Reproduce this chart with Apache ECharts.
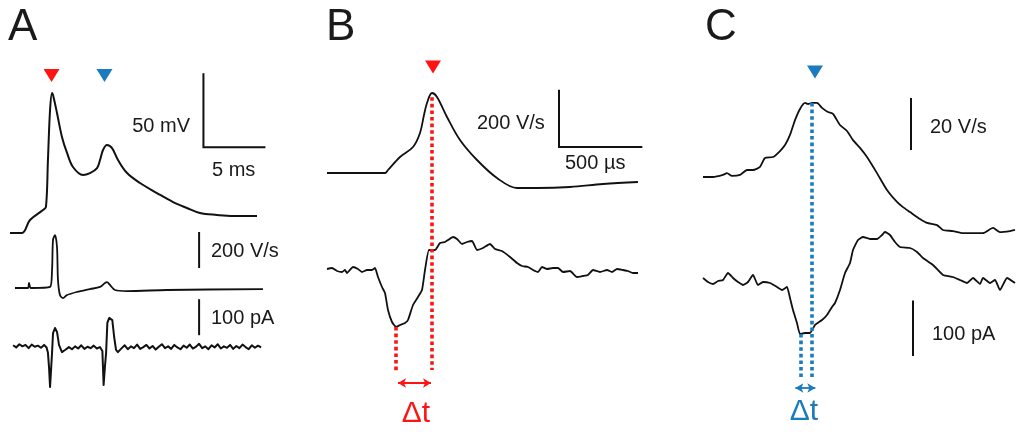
<!DOCTYPE html>
<html>
<head>
<meta charset="utf-8">
<script src="https://cdn.jsdelivr.net/npm/echarts@6/dist/echarts.min.js"></script>
<style>
  html, body { margin: 0; padding: 0; background: #fff; }
  #chart { width: 1016px; height: 432px; }
</style>
</head>
<body>
<div id="chart"></div>
<script>
// ---- data (A: ms / mV, V/s, pA ; B, C: µs from the marked peak) ----
const aVolt = [[0,-70],[0.97,-70],[1.61,-61.2],[2.66,-54.5],[2.9,-52.4],[3.06,-20.7],[3.23,13.1],[3.39,24.6],[3.47,23.2],
  [3.79,11.1],[4.19,-5.1],[4.6,-15.9],[5.08,-25.4],[5.89,-30.8],[6.45,-29.5],[7.02,-26.1],[7.26,-20.7],[7.5,-13.9],
  [7.82,-10.5],[8.23,-12.6],[8.71,-20.7],[9.44,-29.5],[10.48,-36.2],[11.85,-43],[13.15,-49.1],[14.27,-53.1],
  [15.32,-56.5],[16.69,-57.8],[17.98,-58.5],[19.92,-58.5]];

const aDvdt = [[0.4,0],[1.45,0],[1.53,28],[1.69,0],[3.23,6],[3.39,100],[3.47,267],[3.63,294],[3.79,228],[3.87,44],
  [4.03,-39],[4.27,-56],[4.6,-39],[5.4,-22],[6.45,-6],[7.26,6],[7.66,28],[7.82,33],[8.06,17],[8.47,-11],[9.44,-17],
  [12.66,-11],[20.4,-6]];

const aCurr = [[0.25,2],[0.5,-4],[0.75,5],[1,-1],[1.25,3],[1.5,-6],[1.75,4],[2,-2],[2.25,1],[2.5,-5],[2.75,3],
  [2.95,-4],[3.06,-19],[3.15,-60],[3.23,-114],[3.31,-67],[3.39,-19],[3.47,36],[3.63,50],[3.79,39],[3.87,22],[3.95,3],
  [4.19,-17],[4.44,-11],[4.75,-3],[5,-9],[5.25,-1],[5.5,-7],[5.75,2],[6,-8],[6.25,-2],[6.5,-6],[6.75,1],[7,-7],
  [7.25,-3],[7.35,-6],[7.45,-14],[7.55,-108],[7.65,-60],[7.75,-19],[7.85,64],[8,78],[8.1,80],[8.25,72],[8.4,25],
  [8.55,-11],[8.7,-17],[8.95,-8],[9.25,2],[9.5,-9],[9.75,-1],[10,-6],[10.25,4],[10.5,-8],[10.75,-3],[11,3],[11.25,-7],
  [11.5,0],[11.75,-10],[12,-2],[12.25,5],[12.5,-6],[12.75,-1],[13,-8],[13.25,3],[13.5,-4],[13.75,-9],[14,1],[14.25,-5],
  [14.5,4],[14.75,-7],[15,-2],[15.25,6],[15.5,-6],[15.75,-1],[16,-9],[16.25,2],[16.5,-4],[16.75,5],[17,-7],[17.25,-1],
  [17.5,-5],[17.75,3],[18,-8],[18.25,0],[18.5,-6],[18.75,4],[19,-3],[19.25,-9],[19.5,2],[19.75,-5],[20,1],[20.25,-4]];

const bDvdt = [[-630,0],[-282,0],[-264,10.5],[-192,56],[-114,91],[-72,140],[-48,203],[-30,245],[0,280],[30,266],
  [90,196],[168,115.5],[270,45.5],[390,-17.5],[510,-52.5],[630,-52.5],[828,-49],[1026,-38.5],[1236,-31.5]];

const bCurr = [[-630,1.8],[-600,3.6],[-570,-1.8],[-540,-3.6],[-522,0],[-510,-5.4],[-474,5.4],[-444,1.8],[-420,-3.6],
  [-390,0],[-360,0],[-342,3.6],[-324,-12.6],[-300,-30.6],[-282,-41.4],[-264,-72],[-240,-93.6],[-216,-102.6],
  [-192,-99],[-162,-95.4],[-144,-90],[-114,-63],[-84,-48.6],[-60,-36],[-42,0],[-18,36],[18,36],[48,48.6],[78,50.4],
  [96,54],[126,59.4],[150,55.8],[180,46.8],[210,50.4],[240,52.2],[270,36],[306,39.6],[348,46.8],[378,37.8],
  [420,34.2],[468,23.4],[510,12.6],[540,7.2],[576,5.4],[606,0],[636,-3.6],[660,5.4],[690,1.8],[726,3.6],[756,3.6],
  [786,-3.6],[828,-1.8],[870,-12.6],[906,-10.8],[936,-9],[966,0],[1008,-3.6],[1050,0],[1080,-3.6],[1110,1.8],
  [1146,0],[1176,-1.8],[1206,-5.4],[1236,-5.4]];

const cDvdt = [[-654,0],[-594,0],[-534,0.8],[-510,1.5],[-480,0.4],[-432,0.8],[-390,2.7],[-354,2.7],[-312,3.9],
  [-282,7.3],[-234,7.7],[-192,10],[-162,12.3],[-132,16.2],[-102,21.9],[-72,26.2],[-42,28.5],[-24,28.1],[0,28.5],
  [30,28.5],[60,26.6],[96,25],[126,24.3],[168,20],[210,17.7],[246,14.2],[288,11.2],[330,7.7],[390,1.5],[450,-5],
  [510,-9.6],[546,-11.6],[588,-13.5],[648,-16.2],[690,-17.7],[750,-18.5],[786,-20.4],[846,-20.8],[906,-21.6],
  [966,-21.6],[1026,-21.6],[1086,-19.6],[1128,-21.2],[1188,-20.8],[1218,-20.4]];

const cCurr = [[-654,3.6],[-624,-3.6],[-594,-7.2],[-564,-1.8],[-534,0],[-504,12.6],[-474,3.6],[-444,-3.6],[-414,-9],
  [-384,-3.6],[-354,9],[-324,-9],[-294,-3.6],[-252,-5.4],[-210,-12.6],[-180,-18],[-150,-12.6],[-132,-32.4],
  [-114,-54],[-90,-77.4],[-72,-97.2],[-42,-95.4],[-12,-95.4],[18,-81],[60,-72],[90,-63],[120,-48.6],[138,-41.4],
  [168,-18],[198,12.6],[228,30.6],[246,54],[276,72],[306,77.4],[348,73.8],[390,73.8],[420,81],[438,86.4],[468,81],
  [498,68.4],[528,59.4],[588,57.6],[630,50.4],[666,39.6],[726,27],[786,9],[846,5.4],[888,0],[930,-5.4],[966,3.6],
  [1008,-7.2],[1026,3.6],[1068,-5.4],[1098,0],[1128,-18],[1170,3.6],[1218,-5.4]];

// scale bars
const aVoltBar = [[15.6,38],[15.6,-12],[20.6,-12]];   // 50 mV, 5 ms
const aDvdtBar = [[15.25,311],[15.25,111]];          // 200 V/s
const aCurrBar = [[15.25,130],[15.25,30]];           // 100 pA
const bDvdtBar = [[762,291],[762,91],[1262,91]];     // 200 V/s, 500 µs
const cDvdtBar = [[594,30.4],[594,10.4]];            // 20 V/s
const cCurrBar = [[606,-36.8],[606,-136.8]];         // 100 pA

// peak markers, delta-t lines and arrows
const aMarks = [[3.35,36.4],[7.62,36.4]];
const bMark = [[6,371]];
const cMark = [[18,40.4]];
const bDashPeak = [[0,311],[0,-180]];
const bDashCurr = [[-216,-102.6],[-216,-185]];
const bArrow = [-204,-6,-203.4];
const cDashPeak = [[0,318.6],[0,-174.6]];
const cDashCurr = [[-66,-97.2],[-66,-174.6]];
const cArrow = [-100,20,-194.4];

const RED = '#ff1414';
const BLUE = '#1a7bbd';
const W = 1016, H = 432;

// each frame: pixel position of the zero point and pixels per unit
const frames = [
  { x0: 10, sx: 12.4, y0: 129.4, sy: 1.48 },   // 0 A voltage
  { x0: 10, sx: 12.4, y0: 288, sy: 0.18 },     // 1 A dV/dt
  { x0: 10, sx: 12.4, y0: 346, sy: 0.36 },     // 2 A current
  { x0: 432, sx: 1 / 6, y0: 173, sy: 1 / 3.5 }, // 3 B dV/dt
  { x0: 432, sx: 1 / 6, y0: 270, sy: 1 / 1.8 }, // 4 B current
  { x0: 812, sx: 1 / 6, y0: 177, sy: 1 / 0.385 }, // 5 C dV/dt
  { x0: 812, sx: 1 / 6, y0: 280, sy: 1 / 1.8 }  // 6 C current
];

const grid = frames.map(() => ({ left: 0, top: 0, width: W, height: H }));
const xAxis = frames.map((f, i) => ({
  type: 'value', gridIndex: i, show: false,
  min: -f.x0 / f.sx, max: (W - f.x0) / f.sx
}));
const yAxis = frames.map((f, i) => ({
  type: 'value', gridIndex: i, show: false,
  min: -(H - f.y0) / f.sy, max: f.y0 / f.sy
}));

function trace(i, data, smooth, width) {
  return {
    type: 'line', xAxisIndex: i, yAxisIndex: i, data: data,
    symbol: 'none', smooth: smooth || false,
    lineStyle: { color: '#111', width: width || 1.8, join: 'round' }, z: 2
  };
}
function bar(i, data) {
  return {
    type: 'line', xAxisIndex: i, yAxisIndex: i, data: data, symbol: 'none',
    lineStyle: { color: '#111', width: 2, cap: 'butt', join: 'miter' }, z: 2
  };
}
function dash(i, data, color) {
  return {
    type: 'line', xAxisIndex: i, yAxisIndex: i, data: data, symbol: 'none',
    lineStyle: { color: color, width: 3.6, type: [3.6, 3], cap: 'butt' }, z: 4
  };
}
function tri(i, data, color) {
  return {
    type: 'scatter', xAxisIndex: i, yAxisIndex: i, data: data,
    symbol: 'triangle', symbolRotate: 180, symbolSize: [16, 13],
    itemStyle: { color: color, opacity: 1 }, z: 5
  };
}
function arrow(i, a, color) {
  return {
    type: 'line', xAxisIndex: i, yAxisIndex: i, data: [],
    markLine: {
      silent: true, symbol: ['arrow', 'arrow'], symbolSize: [7, 8],
      label: { show: false },
      lineStyle: { color: color, width: 1.8, type: 'solid' },
      data: [[{ coord: [a[0], a[2]] }, { coord: [a[1], a[2]] }]]
    }
  };
}

const series = [
  trace(0, aVolt, 0.35, 2), trace(1, aDvdt, 0.3), trace(2, aCurr, false, 2),
  trace(3, bDvdt, 0.35), trace(4, bCurr, 0.15), trace(5, cDvdt, 0.2), trace(6, cCurr, 0.15),
  bar(0, aVoltBar), bar(1, aDvdtBar), bar(2, aCurrBar), bar(3, bDvdtBar), bar(5, cDvdtBar), bar(6, cCurrBar),
  dash(4, bDashPeak, RED), dash(4, bDashCurr, RED), dash(6, cDashPeak, BLUE), dash(6, cDashCurr, BLUE),
  tri(0, [aMarks[0]], RED), tri(0, [aMarks[1]], BLUE), tri(3, bMark, RED), tri(5, cMark, BLUE),
  arrow(4, bArrow, RED), arrow(6, cArrow, BLUE)
];

const FONT = '"Liberation Sans", Arial, sans-serif';
function txt(x, y, text, size, color, align) {
  return {
    type: 'text', x: x, y: y, silent: true,
    style: { text: text, fontSize: size, fontFamily: FONT, fill: color || '#1a1a1a',
      align: align || 'left', verticalAlign: 'middle' }
  };
}

const graphic = [
  txt(8, 28, 'A', 44), txt(326, 28, 'B', 44), txt(705, 28, 'C', 44),
  txt(190, 126, '50 mV', 20, null, 'right'), txt(212, 170, '5 ms', 20),
  txt(211, 251, '200 V/s', 20), txt(211, 318, '100 pA', 20),
  txt(477, 123, '200 V/s', 20), txt(565, 163, '500 µs', 20),
  txt(930, 127, '20 V/s', 20), txt(932, 334, '100 pA', 20),
  txt(416, 414, 'Δt', 30, RED, 'center'), txt(804, 412, 'Δt', 30, BLUE, 'center')
];

const chart = echarts.init(document.getElementById('chart'));
chart.setOption({
  animation: false,
  backgroundColor: '#fff',
  grid: grid, xAxis: xAxis, yAxis: yAxis,
  series: series,
  graphic: graphic
});
</script>
</body>
</html>
